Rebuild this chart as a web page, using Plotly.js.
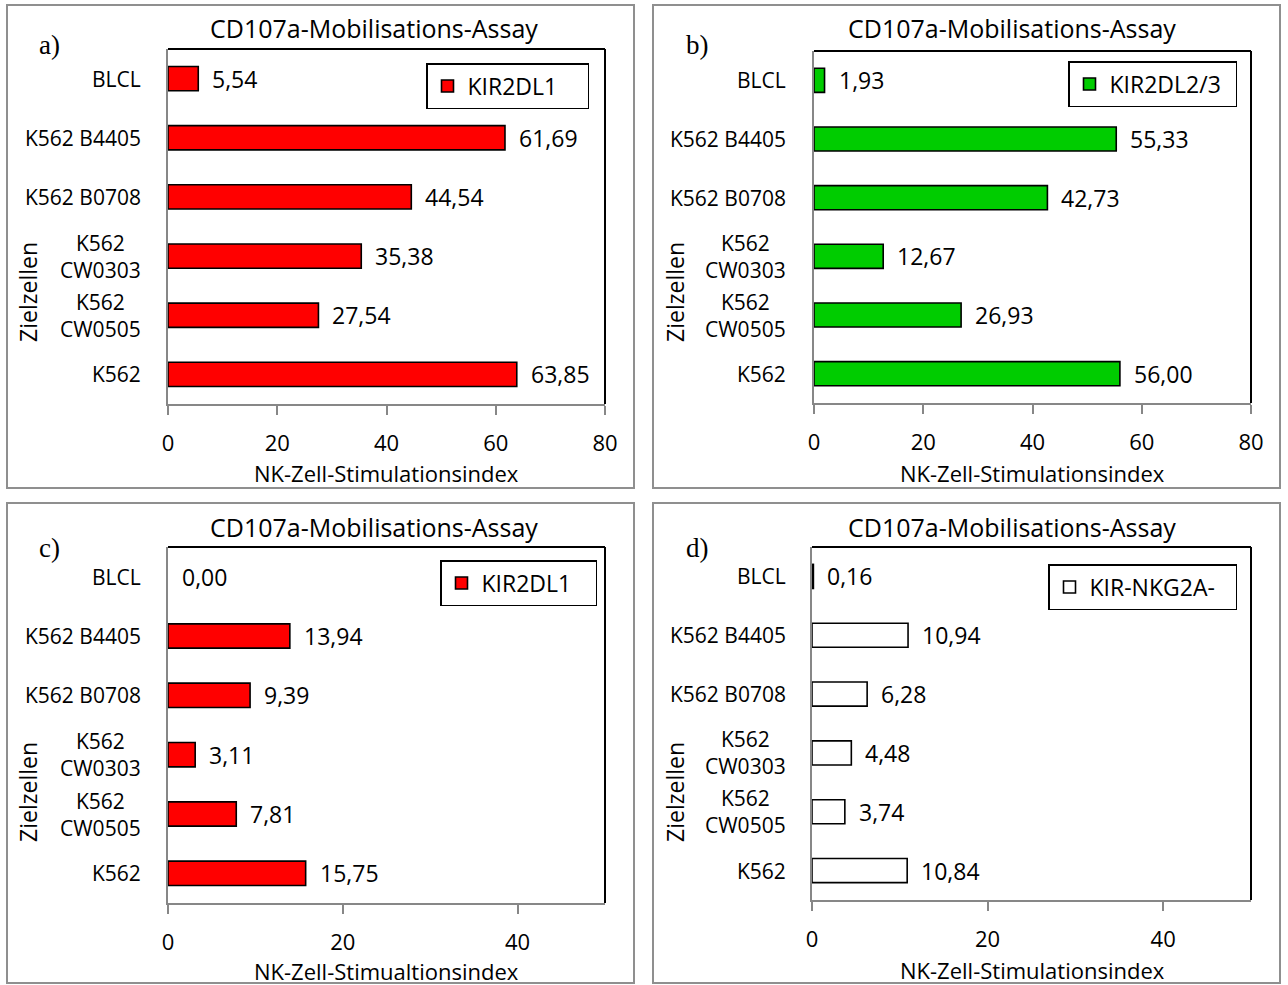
<!DOCTYPE html>
<html>
<head>
<meta charset="utf-8">
<script src="https://cdn.plot.ly/plotly-3.0.1.min.js"></script>
<style>html,body{margin:0;padding:0;background:#fff;}#chart{width:1288px;height:985px;}</style>
</head>
<body>
<div id="chart"></div>
<script>
// ---- data ----
const categories = ['K562', 'K562 CW0505', 'K562 CW0303', 'K562 B0708', 'K562 B4405', 'BLCL'];
const categoryLabels = ['K562', 'K562<br>CW0505', 'K562<br>CW0303', 'K562 B0708', 'K562 B4405', 'BLCL'];
const valuesA = [63.85, 27.54, 35.38, 44.54, 61.69, 5.54];
const valuesB = [56.00, 26.93, 12.67, 42.73, 55.33, 1.93];
const valuesC = [15.75, 7.81, 3.11, 9.39, 13.94, 0.00];
const valuesD = [10.84, 3.74, 4.48, 6.28, 10.94, 0.16];
const seriesNames = ['KIR2DL1', 'KIR2DL2/3', 'KIR2DL1', 'KIR-NKG2A-'];
const panelLetters = ['a)', 'b)', 'c)', 'd)'];
const chartTitle = 'CD107a-Mobilisations-Assay';
const xTitles = ['NK-Zell-Stimulationsindex', 'NK-Zell-Stimulationsindex', 'NK-Zell-Stimualtionsindex', 'NK-Zell-Stimulationsindex'];
const yTitle = 'Zielzellen';
const xTicksAB = [0, 20, 40, 60, 80];
const xTicksCD = [0, 20, 40];
const xRangeAB = [0, 80];
const xRangeCD = [0, 50];

// ---- styling / layout ----
const W = 1288, H = 985;
const fx = x => x / W;
const fy = y => 1 - y / H;
const FONT = '"Open Sans", "Noto Sans", sans-serif';
const SERIF = '"Liberation Serif", "DejaVu Serif", serif';
const AXIS_GRAY = '#878787';
const BOX_GRAY = '#8f8f8f';

const series = [valuesA, valuesB, valuesC, valuesD];
const colors = ['#FF0000', '#00CC00', '#FF0000', '#FFFFFF'];
const ranges = [xRangeAB, xRangeAB, xRangeCD, xRangeCD];
const ticks = [xTicksAB, xTicksAB, xTicksCD, xTicksCD];
const geo = [
  {box: [7, 5, 634, 488], plot: [168, 49, 605, 404], title: [374, 28], letter: [49, 45], ylab: 143, ytitle: [28, 292], xtitle: [386, 473], legend: [589, 63], legendW: 115},
  {box: [653, 5, 1280, 488], plot: [814, 51, 1251, 403], title: [1012, 28], letter: [697, 45], ylab: 788, ytitle: [675, 292], xtitle: [1032, 473], legend: [1237, 61], legendW: 121},
  {box: [7, 503, 634, 983], plot: [168, 547, 605, 903], title: [374, 527], letter: [49, 548], ylab: 143, ytitle: [28, 792], xtitle: [386, 971], legend: [597, 560], legendW: 109},
  {box: [653, 503, 1280, 983], plot: [812, 547, 1251, 900], title: [1012, 527], letter: [697, 548], ylab: 788, ytitle: [675, 792], xtitle: [1032, 970], legend: [1237, 564], legendW: 141}
];

const fmt = v => v.toFixed(2).replace('.', ',');

const traces = [];
const layout = {
  width: W, height: H,
  margin: {l: 0, r: 0, t: 0, b: 0},
  paper_bgcolor: '#ffffff',
  plot_bgcolor: '#ffffff',
  font: {family: FONT, size: 21, color: '#000'},
  showlegend: true,
  annotations: [],
  shapes: []
};

function note(x, y, text, size, extra) {
  return Object.assign({xref: 'paper', yref: 'paper', x: fx(x), y: fy(y), xanchor: 'center', yanchor: 'middle',
    text: text, showarrow: false, font: {family: FONT, size: size, color: '#000'}}, extra || {});
}

series.forEach((vals, i) => {
  const n = i === 0 ? '' : String(i + 1);
  const xa = 'x' + n, ya = 'y' + n;
  const legendId = 'legend' + n;
  const g = geo[i];
  traces.push({
    type: 'bar',
    orientation: 'h',
    x: vals,
    y: categories,
    name: seriesNames[i],
    xaxis: xa, yaxis: ya,
    legend: legendId,
    width: 0.41,
    marker: {color: colors[i], line: {color: '#000', width: vals.map(v => (v > 0 ? 1.6 : 0))}},
    hoverinfo: 'x+y'
  });

  layout['xaxis' + n] = {
    domain: [fx(g.plot[0]), fx(g.plot[2])],
    anchor: ya,
    range: ranges[i],
    tickvals: ticks[i],
    ticktext: ticks[i].map(String),
    ticks: 'outside', ticklen: 9, tickwidth: 2, tickcolor: AXIS_GRAY,
    showline: true, linecolor: AXIS_GRAY, linewidth: 2,
    showgrid: false, zeroline: false,
    tickfont: {family: FONT, size: 22, color: '#000'},
    ticklabelstandoff: 10,
    fixedrange: true
  };
  layout['yaxis' + n] = {
    domain: [fy(g.plot[3]), fy(g.plot[1])],
    anchor: xa,
    type: 'category',
    categoryorder: 'array',
    categoryarray: categories,
    range: [-0.5, categories.length - 0.5],
    showticklabels: false,
    ticks: '',
    showline: true, linecolor: AXIS_GRAY, linewidth: 2,
    showgrid: false, zeroline: false,
    fixedrange: true
  };
  layout[legendId] = {
    x: fx(g.legend[0]), xanchor: 'right',
    y: fy(g.legend[1]), yanchor: 'top',
    orientation: 'h',
    entrywidth: g.legendW, entrywidthmode: 'pixels',
    bgcolor: '#ffffff',
    bordercolor: '#000', borderwidth: 1.5,
    font: {family: FONT, size: 23, color: '#000'},
    itemclick: false, itemdoubleclick: false
  };

  // panel border
  layout.shapes.push({type: 'rect', xref: 'paper', yref: 'paper',
    x0: fx(g.box[0]), x1: fx(g.box[2]), y0: fy(g.box[3]), y1: fy(g.box[1]),
    line: {color: BOX_GRAY, width: 2}, layer: 'below'});
  // top & right frame lines of plot area (black)
  layout.shapes.push({type: 'line', xref: xa + ' domain', yref: ya + ' domain',
    x0: 0, x1: 1, y0: 1, y1: 1, line: {color: '#000', width: 2}});
  layout.shapes.push({type: 'line', xref: xa + ' domain', yref: ya + ' domain',
    x0: 1, x1: 1, y0: 0, y1: 1, line: {color: '#000', width: 2}});

  layout.annotations.push(note(g.title[0], g.title[1], chartTitle, 25));
  layout.annotations.push(note(g.letter[0], g.letter[1], panelLetters[i], 27, {font: {family: SERIF, size: 27, color: '#000'}}));
  layout.annotations.push(note(g.ytitle[0], g.ytitle[1], yTitle, 23, {textangle: -90}));
  layout.annotations.push(note(g.xtitle[0], g.xtitle[1], xTitles[i], 22));

  // category labels
  categories.forEach((c, k) => {
    layout.annotations.push({xref: 'paper', yref: ya, x: fx(g.ylab), y: c,
      xanchor: 'right', yanchor: 'middle', align: 'center', text: categoryLabels[k], showarrow: false,
      font: {family: FONT, size: 21, color: '#000'}});
  });
  // value labels
  vals.forEach((v, k) => {
    layout.annotations.push({xref: xa, yref: ya, x: v, y: categories[k],
      xanchor: 'left', yanchor: 'middle', xshift: 12, text: fmt(v), showarrow: false,
      font: {family: FONT, size: 23, color: '#000'}});
  });
});

Plotly.newPlot('chart', traces, layout, {displayModeBar: false, staticPlot: false, responsive: false});
</script>
</body>
</html>
